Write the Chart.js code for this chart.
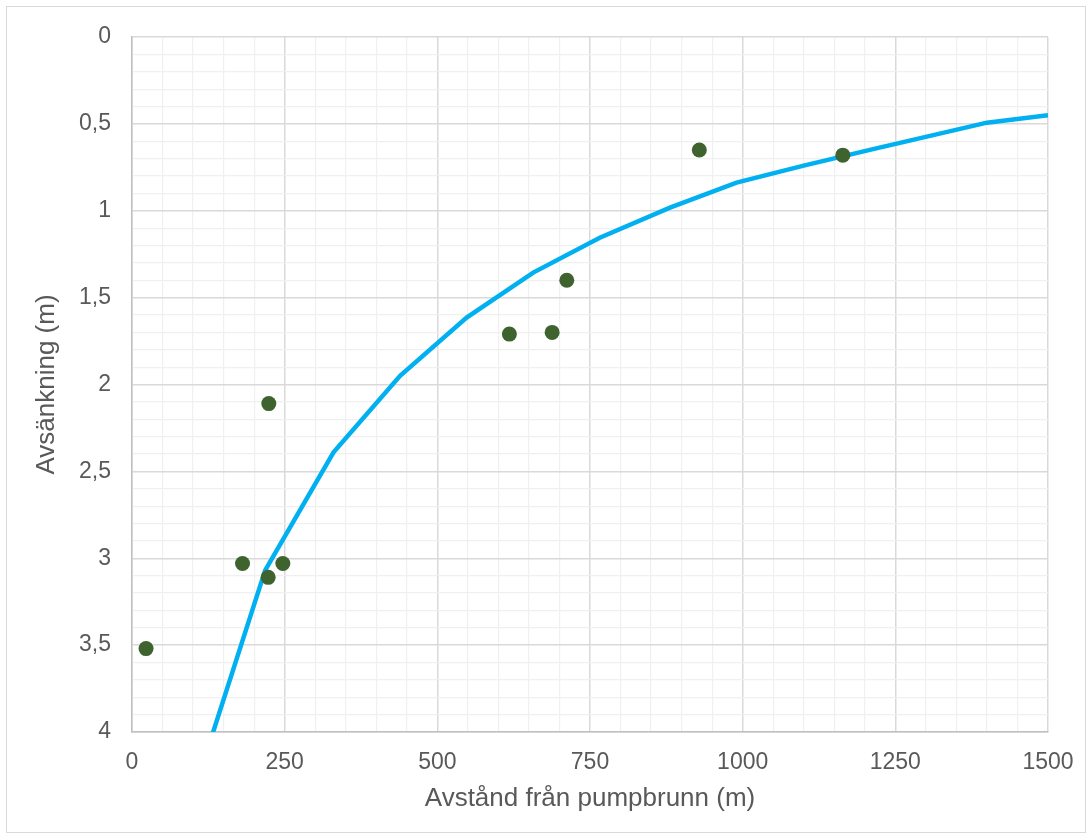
<!DOCTYPE html>
<html>
<head>
<meta charset="utf-8">
<script src="https://cdn.jsdelivr.net/npm/chart.js@4.4.0/dist/chart.umd.min.js"></script>
<style>
  html, body { margin: 0; padding: 0; background: #ffffff; }
  #frame { position: absolute; left: 6px; top: 6px; width: 1078px; height: 825px; border: 1px solid #d9d9d9; }
  #wrap { position: absolute; left: 0; top: 0; width: 1092px; height: 839px; }
</style>
</head>
<body>
<div id="frame"></div>
<div id="wrap"><canvas id="c" width="1092" height="839"></canvas></div>
<script>
// Observed drawdown points
const obsX = [23, 181, 223, 224, 247, 618, 688, 712, 929, 1164];
const obsY = [3.52, 3.03, 3.11, 2.11, 3.03, 1.71, 1.70, 1.40, 0.65, 0.68];
// Model curve
const curveX = [110, 218, 330, 439, 548, 657, 766, 881, 990, 1100, 1210, 1400, 1500];
const curveY = [4.25, 3.07, 2.39, 1.95, 1.615, 1.356, 1.155, 0.982, 0.838, 0.74, 0.648, 0.493, 0.45];
// Axis labels / ranges
const xTitle = 'Avstånd från pumpbrunn (m)';
const yTitle = 'Avsänkning (m)';
const xMin = 0, xMax = 1500, xMajor = 250, xMinor = 50;
const yMin = 0, yMax = 4, yMajor = 0.5, yMinor = 0.1;

const obsData = obsX.map((x, i) => ({ x: x, y: obsY[i] }));
const curveData = curveX.map((x, i) => ({ x: x, y: curveY[i] }));

const tickFont = { family: '"Liberation Sans", Arial, sans-serif', size: 23 };
const titleFont = { family: '"Liberation Sans", Arial, sans-serif', size: 26 };

function isMajorX(v) { return Math.round(v) % xMajor === 0; }
function isMajorY(v) { return Math.round(v * 10) % Math.round(yMajor * 10) === 0; }

new Chart(document.getElementById('c'), {
  type: 'scatter',
  data: {
    datasets: [
      {
        label: 'Observerad',
        data: obsData,
        pointRadius: 7.5,
        pointHoverRadius: 7.5,
        backgroundColor: '#3e632f',
        borderColor: '#3e632f',
        borderWidth: 0,
        showLine: false
      },
      {
        label: 'Beräknad',
        data: curveData,
        showLine: true,
        pointRadius: 0,
        borderColor: '#00b0f0',
        borderWidth: 4.5,
        tension: 0,
        clip: 0
      }
    ]
  },
  options: {
    responsive: false,
    animation: false,
    events: [],
    layout: { padding: { left: 0, right: 44, top: 37, bottom: 0 } },
    plugins: { legend: { display: false }, tooltip: { enabled: false } },
    scales: {
      x: {
        type: 'linear',
        min: xMin, max: xMax,
        afterFit: (s) => { s.height = 107; },
        ticks: {
          stepSize: xMinor,
          autoSkip: false,
          maxRotation: 0,
          padding: 17,
          color: '#595959',
          font: tickFont,
          callback: (v) => isMajorX(v) ? String(Math.round(v)) : ''
        },
        grid: {
          drawTicks: false,
          color: (ctx) => isMajorX(ctx.tick.value) ? '#d9d9d9' : '#f0f0f0',
          lineWidth: (ctx) => isMajorX(ctx.tick.value) ? 1.5 : 1.2
        },
        border: { display: true, color: '#bfbfbf', width: 1.5 },
        title: {
          display: true,
          text: xTitle,
          color: '#595959',
          font: titleFont,
          padding: { top: 0, bottom: 25 }
        }
      },
      y: {
        type: 'linear',
        reverse: true,
        min: yMin, max: yMax,
        afterFit: (s) => { s.width = 132; },
        ticks: {
          stepSize: yMinor,
          autoSkip: false,
          padding: 21,
          color: '#595959',
          font: tickFont,
          callback: (v) => isMajorY(v) ? String(Math.round(v * 10) / 10).replace('.', ',') : ''
        },
        grid: {
          drawTicks: false,
          color: (ctx) => isMajorY(ctx.tick.value) ? '#d9d9d9' : '#f0f0f0',
          lineWidth: (ctx) => isMajorY(ctx.tick.value) ? 1.5 : 1.2
        },
        border: { display: true, color: '#bfbfbf', width: 1.5 },
        title: {
          display: true,
          text: yTitle,
          color: '#595959',
          font: titleFont,
          padding: { top: 31, bottom: 0 }
        }
      }
    }
  }
});
</script>
</body>
</html>
